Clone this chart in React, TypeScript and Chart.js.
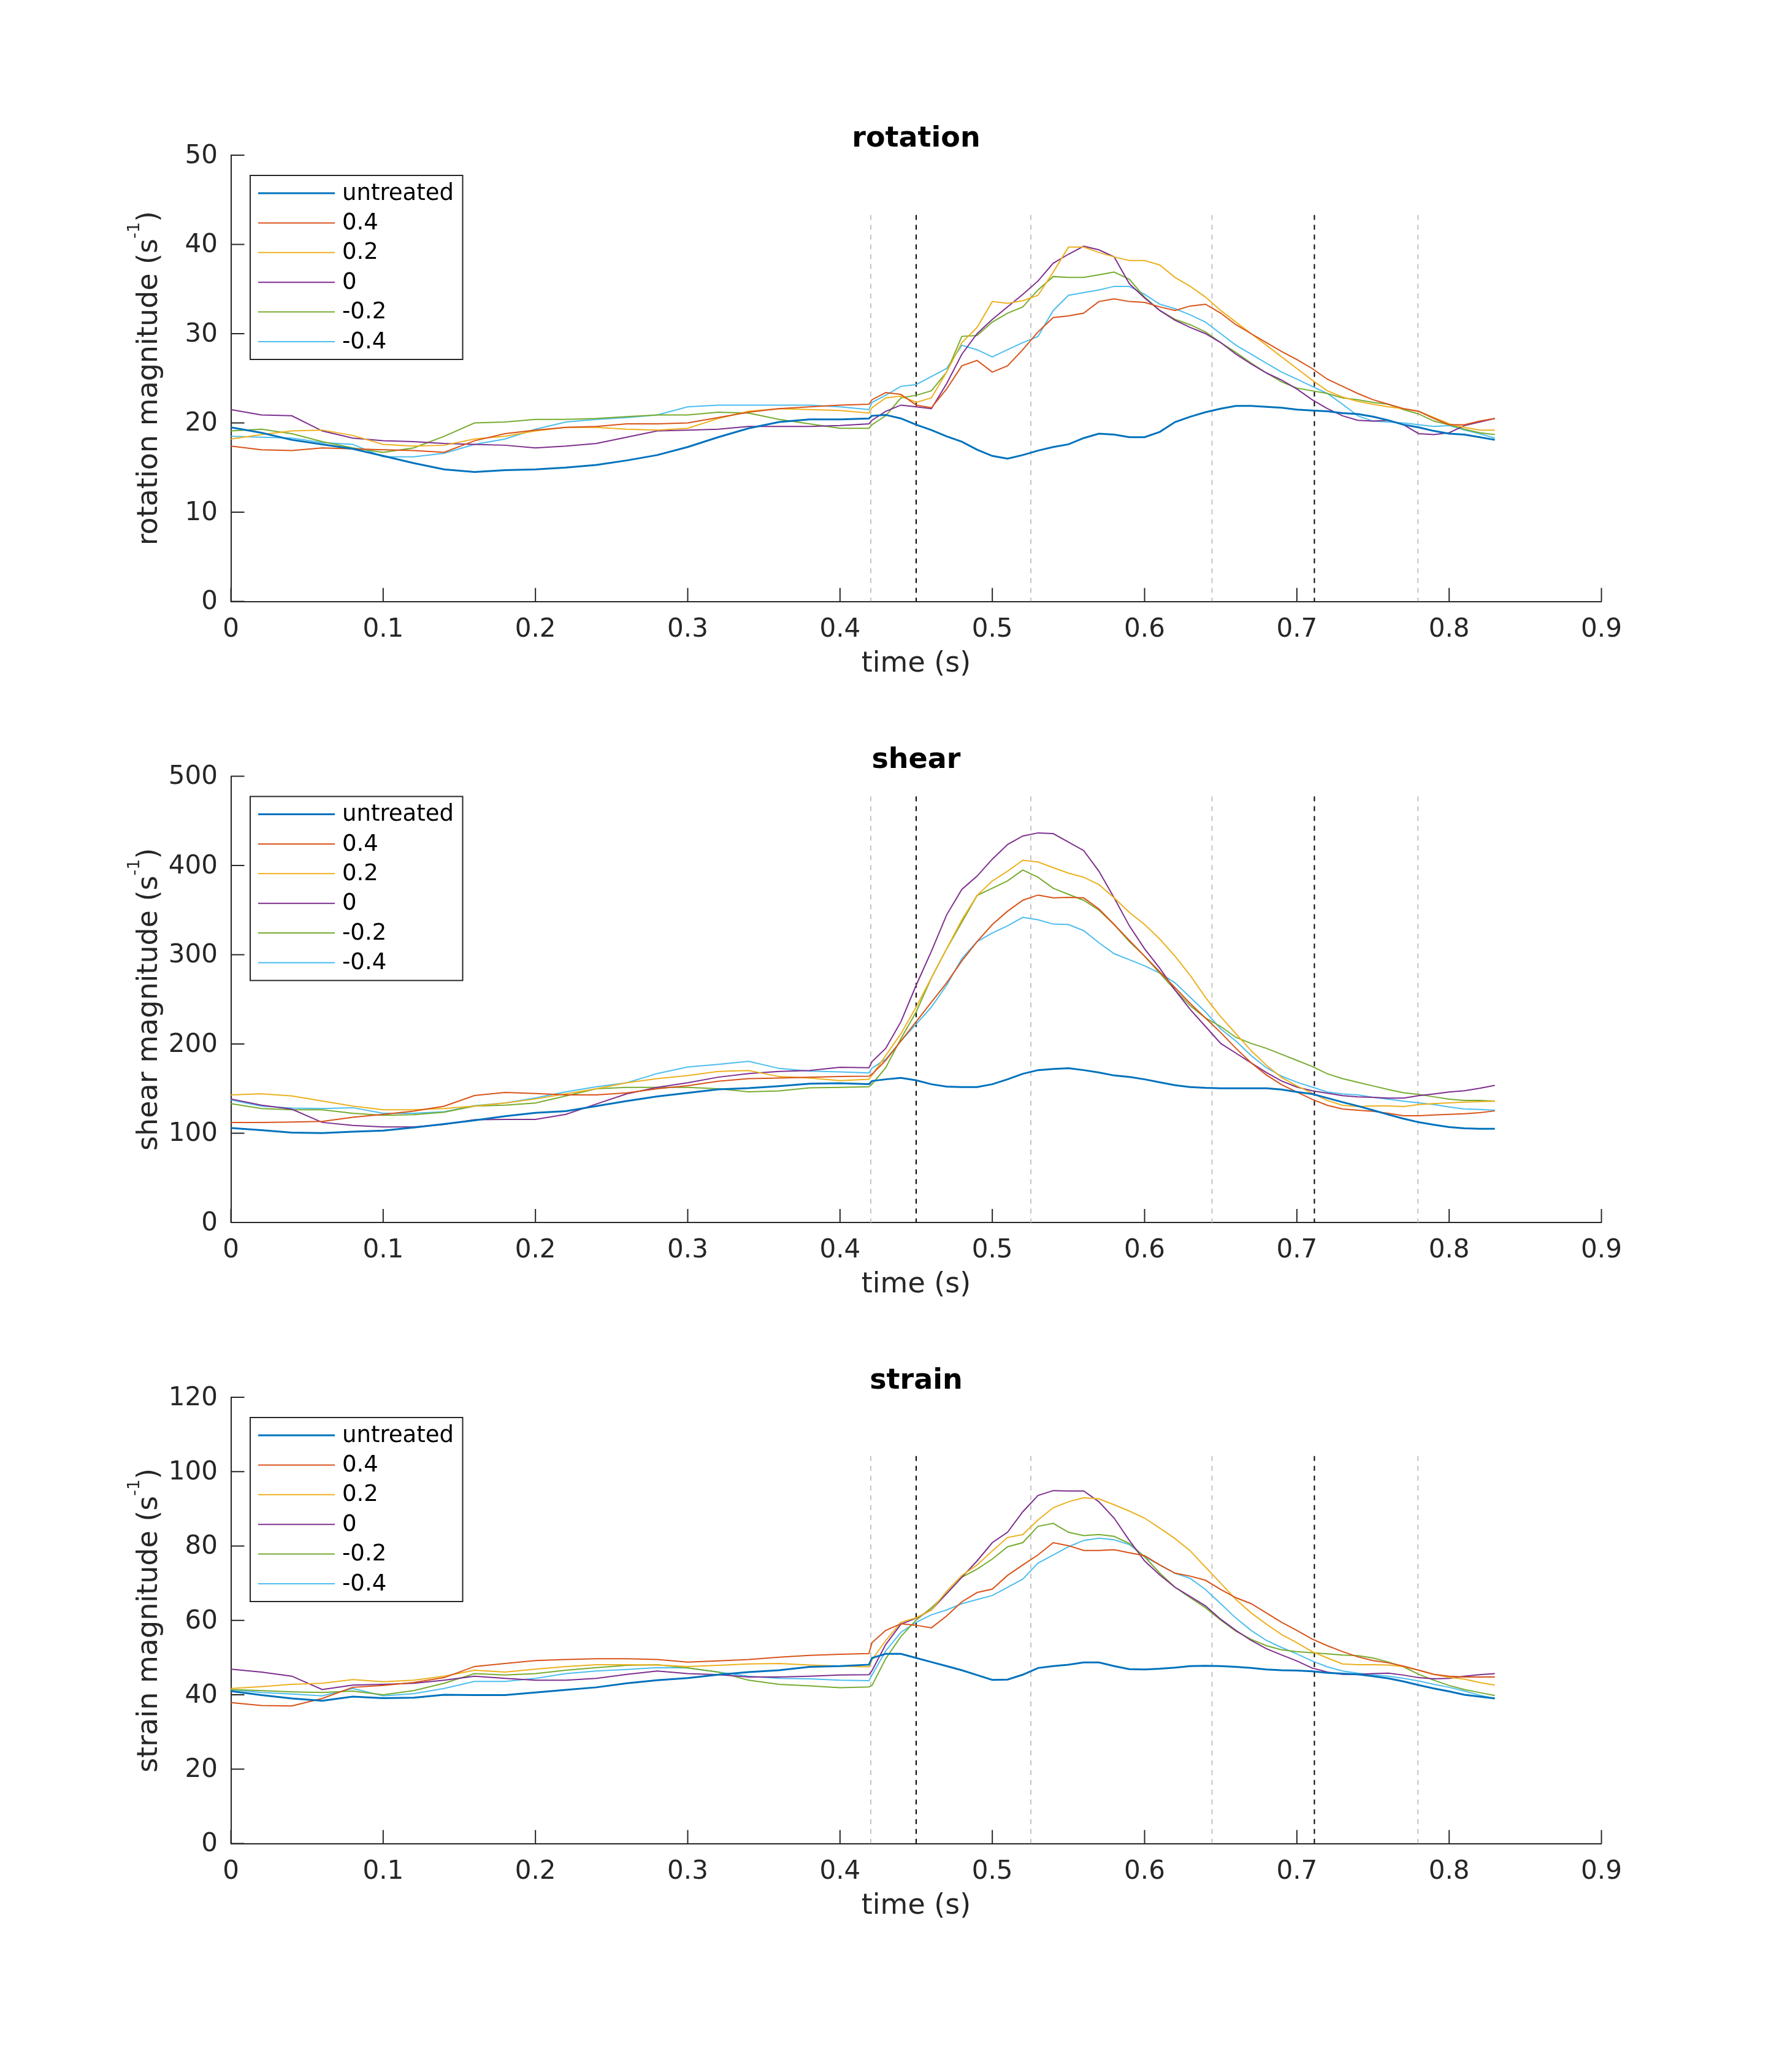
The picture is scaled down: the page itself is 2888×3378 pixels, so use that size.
import { useEffect, useRef } from 'react';
import { Chart, registerables } from 'chart.js';

Chart.register(...registerables);
Chart.defaults.font.family = '"DejaVu Sans", sans-serif';

// sample times (s): 20 ms before the step at 0.42 s, 10 ms after it
const TIME = [
  0, 0.02, 0.04, 0.06, 0.08, 0.1, 0.12, 0.14, 0.16, 0.18, 0.2, 0.22, 0.24, 0.26, 0.28, 0.3, 0.32, 0.34, 0.36, 0.38, 0.4, 0.419,
  0.421, 0.43, 0.44, 0.45, 0.46, 0.47, 0.48, 0.49, 0.5, 0.51, 0.52, 0.53, 0.54, 0.55, 0.56, 0.57, 0.58, 0.59, 0.6,
  0.61, 0.62, 0.63, 0.64, 0.65, 0.66, 0.67, 0.68, 0.69, 0.7, 0.71, 0.72, 0.73, 0.74, 0.75, 0.76, 0.77, 0.78, 0.79, 0.8, 0.81, 0.82, 0.83,
];

const SERIES_LABELS = ['untreated', '0.4', '0.2', '0', '-0.2', '-0.4'];
const SERIES_COLORS = ['#0072BD', '#D95319', '#EDB120', '#7E2F8E', '#77AC30', '#4DBEEE'];
const SERIES_WIDTHS = [3, 2, 2, 2, 2, 2];

const X_TICKS = [0, 0.1, 0.2, 0.3, 0.4, 0.5, 0.6, 0.7, 0.8, 0.9];
const ROTATION_TICKS = [0, 10, 20, 30, 40, 50];
const SHEAR_TICKS = [0, 100, 200, 300, 400, 500];
const STRAIN_TICKS = [0, 20, 40, 60, 80, 100, 120];

// event markers (s)
const GRAY_MARKERS = [0.4202, 0.5253, 0.6443, 0.7795];
const BLACK_MARKERS = [0.45, 0.7115];

// rotation
const ROT_UNTREATED = [
  19.5, 18.9, 18.1, 17.6, 17.1, 16.3, 15.5, 14.8, 14.5, 14.7, 14.8, 15.0, 15.3, 15.8, 16.4, 17.3, 18.4, 19.4, 20.1, 20.4, 20.4, 20.5,
  20.8, 20.9, 20.5, 19.8, 19.2, 18.5, 17.9, 17.0, 16.3, 16.0, 16.4, 16.9, 17.3, 17.6, 18.3, 18.8, 18.7, 18.4, 18.4,
  19.0, 20.1, 20.7, 21.2, 21.6, 21.9, 21.9, 21.8, 21.7, 21.5, 21.4, 21.3, 21.1, 21.0, 20.7, 20.3, 19.8, 19.5, 19.1, 18.8, 18.7, 18.4, 18.1,
];
const ROT_P04 = [
  17.4, 17.0, 16.9, 17.2, 17.1, 17.0, 16.9, 16.7, 18.0, 18.8, 19.2, 19.5, 19.6, 19.9, 19.9, 20.0, 20.6, 21.2, 21.6, 21.8, 22.0, 22.1,
  22.6, 23.4, 23.2, 22.0, 21.7, 23.8, 26.4, 27.0, 25.7, 26.4, 28.2, 30.2, 31.8, 32.0, 32.3, 33.6, 33.9, 33.6, 33.5,
  33.0, 32.6, 33.1, 33.3, 32.3, 31.0, 30.0, 29.0, 28.0, 27.1, 26.1, 24.9, 24.1, 23.3, 22.6, 22.1, 21.6, 21.3, 20.5, 19.8, 19.8, 20.2, 20.5,
];
const ROT_P02 = [
  18.2, 18.7, 19.1, 19.2, 18.6, 17.6, 17.4, 17.5, 18.2, 18.5, 19.1, 19.5, 19.5, 19.3, 19.2, 19.4, 20.5, 21.3, 21.6, 21.5, 21.4, 21.1,
  21.7, 22.8, 23.0, 22.3, 22.8, 25.7, 29.0, 30.7, 33.6, 33.4, 33.7, 34.3, 36.9, 39.7, 39.7, 39.1, 38.6, 38.2, 38.2,
  37.7, 36.3, 35.3, 34.1, 32.6, 31.3, 30.0, 28.7, 27.4, 26.1, 24.8, 23.6, 22.9, 22.4, 22.1, 21.8, 21.6, 21.3, 20.6, 19.9, 19.5, 19.2, 19.2,
];
const ROT_ZERO = [
  21.5, 20.9, 20.8, 19.1, 18.3, 18.0, 17.9, 17.7, 17.6, 17.5, 17.2, 17.4, 17.7, 18.4, 19.1, 19.2, 19.3, 19.6, 19.6, 19.6, 19.7, 19.9,
  20.3, 21.3, 22.0, 21.8, 21.6, 24.4, 27.7, 30.0, 31.6, 33.0, 34.4, 35.9, 37.9, 38.9, 39.8, 39.4, 38.6, 35.6, 34.0,
  32.6, 31.5, 30.7, 30.0, 29.0, 27.7, 26.6, 25.6, 24.8, 23.8, 22.6, 21.6, 20.8, 20.3, 20.2, 20.3, 19.8, 18.8, 18.7, 18.9, 19.7, 20.1, 20.5,
];
const ROT_M02 = [
  19.1, 19.3, 18.8, 17.9, 17.2, 16.7, 17.2, 18.5, 20.0, 20.1, 20.4, 20.4, 20.5, 20.7, 20.9, 20.9, 21.2, 21.1, 20.4, 19.9, 19.4, 19.4,
  19.8, 20.8, 22.8, 23.1, 23.6, 25.7, 29.7, 29.8, 31.3, 32.3, 33.0, 34.9, 36.4, 36.3, 36.3, 36.6, 36.9, 36.1, 34.1,
  32.6, 31.6, 31.0, 30.2, 29.0, 27.9, 26.7, 25.6, 24.6, 23.9, 23.6, 23.3, 22.8, 22.6, 22.3, 22.1, 21.5, 21.0, 20.2, 19.8, 19.3, 18.9, 18.7,
];
const ROT_M04 = [
  18.5, 18.4, 18.3, 17.8, 17.6, 16.2, 16.2, 16.6, 17.6, 18.2, 19.3, 20.1, 20.4, 20.6, 20.9, 21.8, 22.0, 22.0, 22.0, 22.0, 21.8, 21.5,
  22.3, 23.1, 24.1, 24.3, 25.2, 26.1, 28.7, 28.2, 27.4, 28.2, 29.0, 29.7, 32.6, 34.3, 34.6, 34.9, 35.3, 35.3, 34.4,
  33.3, 32.8, 32.1, 31.3, 30.0, 28.7, 27.7, 26.7, 25.7, 24.9, 24.1, 23.3, 22.1, 20.8, 20.2, 20.1, 20.0, 19.8, 19.6, 19.7, 19.2, 18.8, 18.3,
];

// shear
const SH_UNTREATED = [
  105.9, 103.4, 100.7, 100.2, 101.8, 103.0, 106.4, 110.3, 114.4, 119.0, 122.8, 124.7, 130.4, 136.1, 141.3, 145.2, 149.1, 150.5, 152.8, 155.5, 156.0, 155.0,
  158.5, 160.4, 162.0, 159.3, 154.9, 152.2, 151.7, 151.7, 154.9, 160.4, 166.6, 170.7, 172.0, 172.8, 170.7, 168.0, 164.7, 163.1, 160.4,
  157.1, 153.8, 151.7, 150.8, 150.3, 150.3, 150.3, 150.3, 149.0, 146.2, 144.0, 139.4, 134.8, 130.5, 125.8, 120.9, 116.3, 112.3, 109.5, 106.8, 105.5, 104.9, 104.9,
];
const SH_P04 = [
  112.1, 112.1, 112.6, 113.3, 117.8, 121.2, 124.7, 130.2, 142.3, 145.7, 144.5, 143.0, 143.0, 145.2, 149.8, 153.2, 158.2, 161.2, 161.9, 162.8, 163.5, 164.0,
  166.0, 181.6, 203.3, 225.0, 246.8, 268.5, 293.0, 314.7, 333.8, 348.7, 361.0, 366.9, 363.7, 364.2, 363.7, 351.4, 333.8, 316.1, 298.4,
  280.8, 263.1, 245.4, 229.1, 212.8, 195.1, 178.8, 165.2, 154.4, 146.2, 138.1, 131.3, 127.2, 125.8, 124.5, 122.3, 119.6, 119.6, 120.4, 121.2, 121.8, 123.1, 125.0,
];
const SH_P02 = [
  142.9, 144.1, 141.8, 136.1, 130.4, 126.3, 126.3, 127.6, 130.4, 133.8, 138.4, 144.1, 149.8, 156.6, 161.2, 164.6, 169.2, 170.3, 163.5, 161.9, 158.9, 160.5,
  165.0, 187.0, 211.5, 241.4, 274.0, 306.6, 339.2, 366.4, 382.7, 393.6, 405.8, 403.9, 397.6, 391.4, 386.8, 378.6, 363.7, 347.4, 333.8,
  317.5, 298.4, 276.7, 252.2, 230.5, 211.5, 192.4, 176.1, 162.5, 153.0, 144.9, 136.7, 131.3, 129.9, 130.5, 130.5, 129.9, 132.1, 133.2, 134.0, 134.8, 135.4, 135.9,
];
const SH_ZERO = [
  138.4, 131.5, 127.0, 112.1, 108.7, 107.1, 107.1, 109.8, 115.1, 115.5, 115.5, 121.2, 132.7, 144.1, 151.4, 156.6, 162.8, 166.9, 169.2, 170.3, 173.8, 173.3,
  180.2, 195.1, 225.0, 265.8, 303.9, 344.6, 373.2, 388.1, 407.1, 423.5, 433.0, 436.5, 435.7, 426.2, 416.7, 393.6, 363.7, 332.4, 306.6,
  284.8, 260.4, 238.6, 219.6, 200.6, 189.7, 178.8, 167.9, 158.5, 151.7, 147.6, 144.9, 142.1, 140.8, 140.2, 139.4, 139.4, 142.1, 144.0, 146.2, 147.6, 150.3, 153.6,
];
const SH_M02 = [
  133.1, 127.6, 126.3, 126.3, 122.4, 120.1, 120.8, 123.5, 130.4, 131.5, 133.8, 141.8, 149.8, 151.4, 151.4, 151.4, 149.8, 146.4, 147.5, 150.9, 151.4, 152.0,
  155.0, 173.4, 206.0, 235.9, 274.0, 306.6, 336.5, 366.4, 374.5, 382.7, 394.9, 386.8, 374.5, 367.7, 361.0, 350.0, 333.8, 314.7, 298.4,
  279.4, 260.4, 242.7, 229.1, 219.6, 207.4, 200.6, 195.1, 188.4, 181.6, 174.8, 166.6, 161.2, 157.1, 153.0, 149.0, 145.4, 143.5, 140.8, 138.1, 136.7, 136.7, 135.9,
];
const SH_M04 = [
  137.2, 130.4, 128.1, 127.6, 128.6, 122.4, 122.4, 124.0, 130.9, 133.8, 139.5, 146.4, 152.1, 156.6, 166.9, 174.2, 177.2, 180.6, 172.6, 169.6, 168.7, 167.6,
  173.0, 182.9, 203.3, 222.3, 241.4, 265.8, 295.7, 314.7, 324.3, 332.4, 341.9, 339.2, 334.3, 333.8, 327.0, 313.4, 301.2, 294.4, 287.6,
  279.4, 268.5, 252.2, 235.9, 216.9, 203.3, 187.0, 173.4, 163.9, 157.1, 151.7, 146.2, 144.0, 142.9, 140.2, 138.1, 135.9, 134.0, 132.1, 129.4, 127.2, 126.7, 125.8,
];

// strain
const ST_UNTREATED = [
  41.0, 39.9, 39.0, 38.4, 39.5, 39.1, 39.2, 40.0, 39.9, 39.9, 40.6, 41.3, 42.0, 43.1, 43.9, 44.5, 45.4, 46.1, 46.6, 47.5, 47.7, 48.1,
  49.9, 51.0, 51.0, 49.9, 48.8, 47.7, 46.6, 45.3, 44.0, 44.1, 45.4, 47.2, 47.7, 48.1, 48.7, 48.7, 47.7, 46.9, 46.8,
  47.0, 47.3, 47.7, 47.8, 47.7, 47.5, 47.2, 46.8, 46.6, 46.5, 46.3, 45.9, 45.7, 45.5, 45.0, 44.4, 43.6, 42.6, 41.7, 40.9, 40.0, 39.5, 39.0,
];
const ST_P04 = [
  37.9, 37.1, 37.0, 39.0, 42.0, 42.5, 43.3, 44.6, 47.6, 48.4, 49.2, 49.5, 49.7, 49.7, 49.5, 48.8, 49.1, 49.5, 50.1, 50.6, 50.9, 51.1,
  54.0, 57.3, 59.1, 58.7, 58.0, 61.2, 65.0, 67.5, 68.4, 72.1, 74.9, 77.6, 80.9, 80.1, 78.8, 78.8, 79.0, 78.2, 77.4,
  74.9, 72.7, 71.9, 70.8, 68.3, 66.1, 64.5, 62.0, 59.5, 57.3, 55.0, 53.2, 51.6, 50.2, 49.2, 48.6, 47.7, 46.6, 45.5, 45.0, 44.8, 44.8, 44.8,
];
const ST_P02 = [
  41.7, 42.2, 42.8, 43.1, 44.1, 43.5, 43.9, 45.0, 46.6, 46.1, 46.9, 47.6, 48.1, 48.1, 48.0, 47.6, 47.9, 48.3, 48.4, 48.0, 47.7, 47.5,
  49.4, 54.6, 59.5, 60.7, 62.8, 67.8, 72.1, 74.9, 78.7, 82.3, 83.1, 87.0, 90.3, 91.9, 93.0, 92.7, 91.1, 89.4, 87.5,
  84.8, 82.0, 78.7, 74.3, 70.0, 65.6, 62.0, 59.0, 56.2, 54.0, 51.6, 49.9, 48.3, 48.1, 48.1, 48.0, 47.6, 46.6, 45.5, 44.7, 44.2, 43.3, 42.6,
];
const ST_ZERO = [
  46.9, 46.1, 45.0, 41.4, 42.6, 42.8, 43.1, 43.9, 45.0, 44.4, 43.9, 43.9, 44.4, 45.5, 46.4, 45.7, 45.4, 44.8, 44.8, 45.0, 45.3, 45.4,
  46.5, 53.5, 59.0, 60.6, 62.8, 67.2, 71.6, 76.0, 80.9, 83.7, 89.2, 93.6, 94.9, 94.8, 94.8, 91.9, 87.5, 81.5, 76.0,
  72.2, 68.9, 66.4, 63.9, 60.3, 57.3, 54.6, 52.4, 50.7, 49.1, 47.2, 46.1, 45.5, 45.5, 45.7, 45.8, 45.3, 44.6, 44.3, 44.4, 45.0, 45.4, 45.7,
];
const ST_M02 = [
  41.4, 41.1, 40.8, 40.6, 41.0, 40.0, 41.1, 43.1, 45.7, 45.3, 45.7, 46.6, 47.3, 47.9, 48.1, 47.2, 46.1, 43.9, 42.8, 42.4, 41.9, 42.1,
  42.5, 49.7, 55.7, 60.1, 63.4, 67.2, 71.6, 73.8, 76.5, 79.8, 80.9, 85.3, 86.1, 83.7, 82.8, 83.1, 82.6, 80.7, 77.1,
  72.7, 68.9, 66.1, 63.4, 60.1, 57.1, 54.9, 53.2, 52.1, 51.6, 51.3, 51.0, 50.7, 50.5, 49.9, 48.8, 47.5, 45.5, 43.9, 42.5, 41.4, 40.6, 39.8,
];
const ST_M04 = [
  41.4, 40.6, 40.2, 39.7, 41.7, 39.7, 40.3, 41.7, 43.6, 43.6, 44.4, 45.7, 46.4, 46.8, 47.3, 47.2, 46.1, 45.0, 44.4, 44.3, 43.9, 43.8,
  45.3, 51.8, 56.8, 59.5, 61.5, 62.8, 64.5, 65.6, 66.7, 68.9, 71.1, 75.4, 77.6, 79.8, 81.5, 82.1, 81.7, 80.4, 77.1,
  74.9, 72.7, 71.3, 68.3, 64.5, 60.6, 57.3, 54.6, 52.7, 51.0, 49.1, 47.5, 46.4, 45.8, 45.4, 45.0, 44.4, 43.7, 42.8, 42.0, 41.0, 39.9, 39.0,
];

const AXIS_COLOR = '#262626';
const GRAY_DASH = '#c4c4c4';
const PAGE_W = 2888;
const PLOT_LEFT = 376.5;
const PLOT_RIGHT = 2611.5;
const PLOT_H = 727.5;
const CANVAS_H = 1040;
const TOP_SPACE = 160;
const TICK_LEN = 22;

type PanelProps = {
  title: string;
  quantity: string;
  yTicks: number[];
  markerTop: number;
  series: number[][];
  plotTop: number;
};

const fmtX = (v: number) => (Math.round(v * 10) / 10).toString();

const decorPlugin = (title: string, quantity: string) => ({
  id: 'matlabDecor',
  afterDraw(chart: any) {
    const { ctx, chartArea: a, scales } = chart;
    ctx.save();

    // inward ticks
    ctx.strokeStyle = AXIS_COLOR;
    ctx.lineWidth = 2;
    scales.x.ticks.forEach((t: any) => {
      const px = scales.x.getPixelForValue(t.value);
      ctx.beginPath();
      ctx.moveTo(px, a.bottom);
      ctx.lineTo(px, a.bottom - TICK_LEN);
      ctx.stroke();
    });
    scales.y.ticks.forEach((t: any) => {
      const py = scales.y.getPixelForValue(t.value);
      ctx.beginPath();
      ctx.moveTo(a.left, py);
      ctx.lineTo(a.left + TICK_LEN, py);
      ctx.stroke();
    });

    const cx = (a.left + a.right) / 2;

    // title
    ctx.fillStyle = '#000';
    ctx.font = 'bold 46px "DejaVu Sans"';
    ctx.textAlign = 'center';
    ctx.textBaseline = 'alphabetic';
    ctx.fillText(title, cx, a.top - 14);

    // x label
    ctx.fillStyle = AXIS_COLOR;
    ctx.font = '46px "DejaVu Sans"';
    ctx.fillText('time (s)', cx, a.bottom + 114);

    // y label with superscript
    const main = quantity + ' magnitude (s';
    ctx.save();
    ctx.translate(a.left - 121, (a.top + a.bottom) / 2);
    ctx.rotate(-Math.PI / 2);
    ctx.textAlign = 'left';
    ctx.font = '46px "DejaVu Sans"';
    const w1 = ctx.measureText(main).width;
    const w3 = ctx.measureText(')').width;
    ctx.font = '27px "DejaVu Sans"';
    const w2 = ctx.measureText('-1').width;
    const x0 = -(w1 + w2 + w3) / 2;
    ctx.font = '46px "DejaVu Sans"';
    ctx.fillText(main, x0, 0);
    ctx.font = '27px "DejaVu Sans"';
    ctx.fillText('-1', x0 + w1, -29);
    ctx.font = '46px "DejaVu Sans"';
    ctx.fillText(')', x0 + w1 + w2, 0);
    ctx.restore();

    // legend
    const bx = a.left + 31.5;
    const by = a.top + 33;
    const bw = 346.5;
    const bh = 300;
    ctx.fillStyle = '#fff';
    ctx.fillRect(bx, by, bw, bh);
    ctx.strokeStyle = AXIS_COLOR;
    ctx.lineWidth = 2;
    ctx.strokeRect(bx, by, bw, bh);
    ctx.font = '37px "DejaVu Sans"';
    ctx.textAlign = 'left';
    ctx.textBaseline = 'middle';
    chart.data.datasets
      .filter((d: any) => !d.marker)
      .forEach((d: any, i: number) => {
        const cy = by + 29 + i * 48.4;
        ctx.strokeStyle = d.borderColor;
        ctx.lineWidth = d.borderWidth;
        ctx.beginPath();
        ctx.moveTo(bx + 13, cy);
        ctx.lineTo(bx + 138, cy);
        ctx.stroke();
        ctx.fillStyle = '#000';
        ctx.fillText(d.label, bx + 150, cy + 1);
      });

    ctx.restore();
  },
});

const Panel = ({ title, quantity, yTicks, markerTop, series, plotTop }: PanelProps) => {
  const canvasRef = useRef<HTMLCanvasElement | null>(null);
  const chartRef = useRef<Chart | null>(null);
  const canvasTop = Math.floor(plotTop - TOP_SPACE);
  const padTop = plotTop - canvasTop;
  const xAxisH = CANVAS_H - padTop - PLOT_H;

  useEffect(() => {
    if (!canvasRef.current) return;
    if (chartRef.current) chartRef.current.destroy();

    const lines = series.map((values, i) => ({
      label: SERIES_LABELS[i],
      data: TIME.map((t, j) => ({ x: t, y: values[j] })),
      borderColor: SERIES_COLORS[i],
      borderWidth: SERIES_WIDTHS[i],
      pointRadius: 0,
      tension: 0,
      fill: false,
    }));
    const markerDefs = [
      ...GRAY_MARKERS.map((x) => ({ x, color: GRAY_DASH })),
      ...BLACK_MARKERS.map((x) => ({ x, color: '#000' })),
    ];
    const markers = markerDefs.map((m) => ({
      label: '',
      marker: true,
      data: [
        { x: m.x, y: markerTop },
        { x: m.x, y: 0 },
      ],
      borderColor: m.color,
      borderWidth: 2,
      borderDash: [8, 8],
      pointRadius: 0,
      fill: false,
    }));

    chartRef.current = new Chart(canvasRef.current, {
      type: 'line',
      data: { datasets: [...lines, ...markers] as any },
      options: {
        responsive: false,
        devicePixelRatio: 1,
        animation: false,
        layout: {
          padding: { left: 0, right: PAGE_W - PLOT_RIGHT, top: padTop, bottom: 0 },
        },
        plugins: {
          legend: { display: false },
          title: { display: false },
          tooltip: { enabled: false },
        },
        scales: {
          x: {
            type: 'linear',
            min: X_TICKS[0],
            max: X_TICKS[X_TICKS.length - 1],
            afterBuildTicks: (scale: any) => {
              scale.ticks = X_TICKS.map((v) => ({ value: v }));
            },
            afterFit: (scale: any) => {
              scale.height = xAxisH;
            },
            ticks: {
              callback: (v: any) => fmtX(Number(v)),
              color: AXIS_COLOR,
              font: { size: 42 },
              padding: 21,
              maxRotation: 0,
              autoSkip: false,
            },
            grid: { display: false, drawTicks: false },
            border: { display: true, color: AXIS_COLOR, width: 2 },
          },
          y: {
            type: 'linear',
            min: yTicks[0],
            max: yTicks[yTicks.length - 1],
            afterBuildTicks: (scale: any) => {
              scale.ticks = yTicks.map((v) => ({ value: v }));
            },
            afterFit: (scale: any) => {
              scale.width = PLOT_LEFT;
            },
            ticks: {
              callback: (v: any) => String(v),
              color: AXIS_COLOR,
              font: { size: 42 },
              padding: 21.5,
              labelOffset: 2,
              autoSkip: false,
            },
            grid: { display: false, drawTicks: false },
            border: { display: true, color: AXIS_COLOR, width: 2 },
          },
        },
      } as any,
      plugins: [decorPlugin(title, quantity)],
    });

    return () => {
      if (chartRef.current) {
        chartRef.current.destroy();
        chartRef.current = null;
      }
    };
  }, []);

  return (
    <canvas
      ref={canvasRef}
      width={PAGE_W}
      height={CANVAS_H}
      style={{ position: 'absolute', left: 0, top: canvasTop, width: PAGE_W, height: CANVAS_H }}
    />
  );
};

const App = () => {
  return (
    <div
      style={{
        position: 'absolute',
        left: 0,
        top: 0,
        width: PAGE_W,
        height: 3378,
        overflow: 'hidden',
        background: '#fff',
      }}
    >
      <Panel
        title="rotation"
        quantity="rotation"
        yTicks={ROTATION_TICKS}
        markerTop={43.3}
        plotTop={253}
        series={[ROT_UNTREATED, ROT_P04, ROT_P02, ROT_ZERO, ROT_M02, ROT_M04]}
      />
      <Panel
        title="shear"
        quantity="shear"
        yTicks={SHEAR_TICKS}
        markerTop={477.4}
        plotTop={1265.5}
        series={[SH_UNTREATED, SH_P04, SH_P02, SH_ZERO, SH_M02, SH_M04]}
      />
      <Panel
        title="strain"
        quantity="strain"
        yTicks={STRAIN_TICKS}
        markerTop={104.2}
        plotTop={2278}
        series={[ST_UNTREATED, ST_P04, ST_P02, ST_ZERO, ST_M02, ST_M04]}
      />
    </div>
  );
};

export default App;
